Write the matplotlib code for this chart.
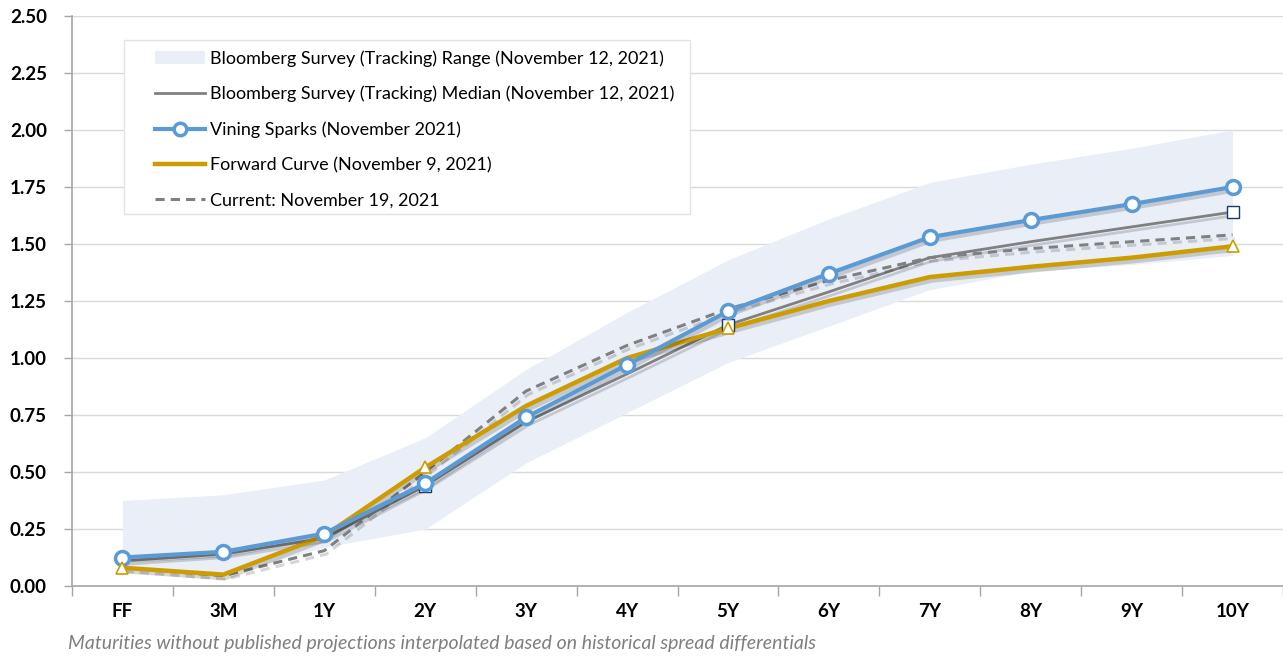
import matplotlib
matplotlib.use("Agg")
import matplotlib.pyplot as plt
import matplotlib.patheffects as pe
from matplotlib.patches import Patch, Rectangle
from matplotlib.lines import Line2D
import numpy as np

categories = ["FF", "3M", "1Y", "2Y", "3Y", "4Y", "5Y", "6Y", "7Y", "8Y", "9Y", "10Y"]
range_low = [0.08, 0.05, 0.17, 0.25, 0.54, 0.76, 0.98, 1.14, 1.30, 1.38, 1.41, 1.45]
range_high = [0.375, 0.40, 0.465, 0.65, 0.95, 1.20, 1.43, 1.61, 1.77, 1.85, 1.92, 2.00]
median = [0.11, 0.14, 0.21, 0.44, 0.72, 0.93, 1.145, 1.29, 1.44, 1.51, 1.575, 1.64]
vining = [0.125, 0.15, 0.23, 0.45, 0.74, 0.97, 1.205, 1.37, 1.53, 1.605, 1.675, 1.75]
forward = [0.08, 0.05, 0.22, 0.52, 0.79, 1.00, 1.13, 1.25, 1.355, 1.40, 1.44, 1.49]
current = [0.08, 0.045, 0.155, 0.50, 0.855, 1.055, 1.215, 1.34, 1.44, 1.48, 1.51, 1.54]
median_marks = ["2Y", "5Y", "10Y"]
forward_marks = ["FF", "2Y", "5Y", "10Y"]
yticks = [0.00, 0.25, 0.50, 0.75, 1.00, 1.25, 1.50, 1.75, 2.00, 2.25, 2.50]
footnote = "Maturities without published projections interpolated based on historical spread differentials"

FONT = ["Lato", "DejaVu Sans"]
plt.rcParams["font.family"] = FONT

W, H = 1283, 658
fig = plt.figure(figsize=(W / 100, H / 100), dpi=100)
ax = fig.add_axes([72 / W, (H - 586) / H, (1283 - 72) / W, (586 - 16) / H])

x = np.arange(len(categories))
c_range = "#E9EEF7"
c_blue = "#5B9BD5"
c_gold = "#CC9C00"
c_gray = "#808080"
c_navy = "#1F3864"

shadow = [pe.SimpleLineShadow(offset=(1.5, -2.5), shadow_color="black", alpha=0.16), pe.Normal()]

ax.fill_between(x, range_low, range_high, color=c_range, lw=0, zorder=1)
ax.plot(x, median, color=c_gray, lw=2, zorder=3, path_effects=shadow)
ax.plot(x, current, color=c_gray, lw=2.2, ls=(0, (3, 2)), zorder=4, path_effects=shadow)
ax.plot(x, forward, color=c_gold, lw=3.2, zorder=5, path_effects=shadow)
ax.plot(x, vining, color=c_blue, lw=3, zorder=6, path_effects=shadow)
ax.plot(x, vining, ls="none", marker="o", ms=10, mfc="white", mec=c_blue, mew=2.5, zorder=7)

mi = [categories.index(c) for c in median_marks]
ax.plot(x[mi], [median[i] for i in mi], ls="none", marker="s", ms=8, mfc="white",
        mec=c_navy, mew=1, zorder=6.5)
fi = [categories.index(c) for c in forward_marks]
ax.plot(x[fi], [forward[i] for i in fi], ls="none", marker="^", ms=9, mfc="white",
        mec=c_gold, mew=1.2, zorder=8)

ax.set_xlim(-0.5, len(categories) - 0.5)
ax.set_ylim(0, 2.5)
ax.set_yticks(yticks)
ax.set_yticklabels([f"{v:.2f}" for v in yticks], fontsize=13.5, fontweight="bold")
ax.set_xticks(x)
ax.set_xticklabels(categories, fontsize=13.5, fontweight="bold")
ax.tick_params(axis="x", length=0, pad=12)
ax.set_xticks(np.arange(-0.5, len(categories) + 0.5, 1), minor=True)
ax.tick_params(axis="x", which="minor", length=7, color="#A6A6A6", width=1)
ax.tick_params(axis="y", length=6, color="#A6A6A6", width=1, pad=12)
ax.yaxis.grid(True, color="#D9D9D9", lw=1)
ax.set_axisbelow(True)
for s in ["top", "right"]:
    ax.spines[s].set_visible(False)
for s in ["left", "bottom"]:
    ax.spines[s].set_color("#A6A6A6")
    ax.spines[s].set_linewidth(1.2)

# legend frame
box = Rectangle((124 / W, 1 - 214 / H), 566 / W, 174 / H, transform=fig.transFigure,
                facecolor="white", edgecolor="#E3E3E3", lw=1, zorder=9, clip_on=False)
ax.add_patch(box)

handles = [
    Patch(facecolor=c_range, edgecolor="none"),
    Line2D([], [], color=c_gray, lw=2),
    Line2D([], [], color=c_blue, lw=3, marker="o", ms=9, mfc="white", mec=c_blue, mew=2.5),
    Line2D([], [], color=c_gold, lw=3.2),
    Line2D([], [], color=c_gray, lw=2.2, ls=(0, (3, 2))),
]
labels = [
    "Bloomberg Survey (Tracking) Range (November 12, 2021)",
    "Bloomberg Survey (Tracking) Median (November 12, 2021)",
    "Vining Sparks (November 2021)",
    "Forward Curve (November 9, 2021)",
    "Current: November 19, 2021",
]
leg = ax.legend(handles, labels, loc="upper left",
                bbox_to_anchor=(155 / W, 1 - 50 / H), bbox_transform=fig.transFigure,
                fontsize=13, frameon=False,
                handlelength=2.78, handletextpad=0.28, labelspacing=1.06,
                borderpad=0, borderaxespad=0)
leg.set_zorder(10)

fig.text(68 / W, 1 - 644 / H, footnote, fontsize=14, style="italic", color="#7F7F7F",
         va="center", ha="left")

fig.savefig("out.png", dpi=100)
